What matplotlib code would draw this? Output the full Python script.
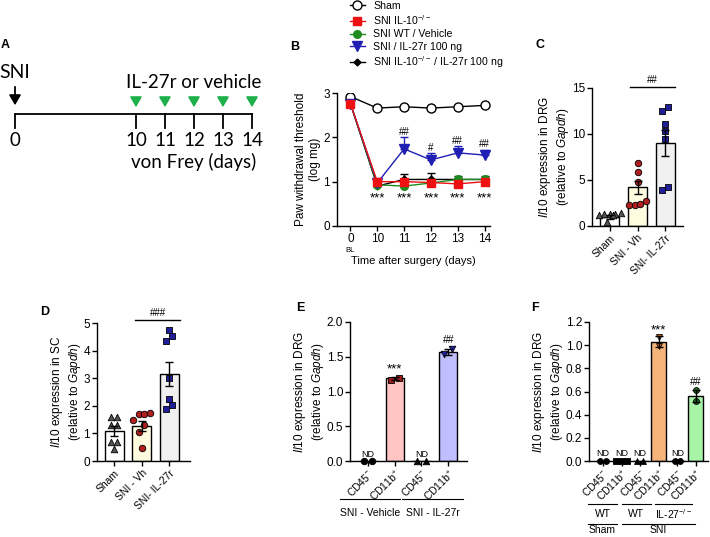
import numpy as np
import matplotlib
matplotlib.use('Agg')
import matplotlib.pyplot as plt
from matplotlib.transforms import blended_transform_factory

plt.rcParams['font.family'] = ['Liberation Sans', 'DejaVu Sans']
plt.rcParams['mathtext.fontset'] = 'custom'
plt.rcParams['mathtext.rm'] = 'Liberation Sans'
plt.rcParams['mathtext.it'] = 'Liberation Sans:italic'
plt.rcParams['mathtext.bf'] = 'Liberation Sans:bold'

W, H = 710, 537

# ---------------- data ----------------
# A: protocol timeline
a_days = [0, 10, 11, 12, 13, 14]
a_dose_days = [10, 11, 12, 13, 14]

# B: paw withdrawal threshold (log mg)
b_days = ['0', '10', '11', '12', '13', '14']
b_names = ['Sham', 'SNI IL-10$^{-/-}$', 'SNI WT / Vehicle',
           'SNI / IL-27r 100 ng', 'SNI IL-10$^{-/-}$ / IL-27r 100 ng']
b_sham = [2.92, 2.66, 2.69, 2.66, 2.69, 2.72]
b_il10ko = [2.76, 1.00, 1.00, 0.98, 0.95, 1.00]
b_wt_veh = [2.76, 0.93, 0.90, 0.97, 1.05, 1.05]
b_il27r = [2.76, 0.97, 1.74, 1.49, 1.65, 1.60]
b_il27r_err = [0.0, 0.03, 0.27, 0.15, 0.15, 0.12]
b_ko_il27r = [2.76, 0.90, 1.05, 1.05, 1.05, 1.05]
b_ko_il27r_err = [0.0, 0.03, 0.13, 0.15, 0.08, 0.08]
b_stars = ['', '***', '***', '***', '***', '***']
b_hash = ['', '', '##', '#', '##', '##']

# C: Il10 in DRG
c_names = ['Sham', 'SNI - Vh', 'SNI- IL-27r']
c_means = [1.0, 4.2, 9.0]
c_sems = [0.2, 0.7, 1.4]
c_points = [[1.35, 1.4, 1.3, 1.35, 1.25, 1.2, 0.45],
            [6.9, 5.85, 4.8, 2.7, 2.3, 2.4, 2.3],
            [12.9, 12.5, 11.1, 10.3, 9.45, 3.9, 4.2]]

# D: Il10 in SC
d_names = ['Sham', 'SNI - Vh', 'SNI- IL-27r']
d_means = [1.1, 1.27, 3.15]
d_sems = [0.18, 0.17, 0.42]
d_points = [[1.6, 1.6, 1.3, 1.3, 0.7, 0.7, 0.42],
            [1.7, 1.7, 1.75, 1.5, 1.3, 1.05, 0.47],
            [4.73, 4.52, 4.34, 3.02, 2.26, 2.04, 1.9]]

# E: sorted cells, DRG
e_names = ['CD45$^{-}$', 'CD11b$^{+}$', 'CD45$^{-}$', 'CD11b$^{+}$']
e_means = [0.0, 1.19, 0.0, 1.57]
e_sems = [0.0, 0.02, 0.0, 0.04]
e_points = [[0, 0], [1.16, 1.20], [0, 0], [1.54, 1.61]]
e_marks = ['ND', '***', 'ND', '##']
e_groups = ['SNI - Vehicle', 'SNI - IL-27r']

# F: sorted cells, DRG, WT vs IL-27-/-
f_names = ['CD45$^{-}$', 'CD11b$^{+}$'] * 3
f_means = [0.0, 0.0, 0.0, 1.03, 0.0, 0.56]
f_sems = [0.0, 0.0, 0.0, 0.05, 0.0, 0.05]
f_points = [[0, 0], [0, 0, 0], [0, 0], [1.07, 0.99], [0, 0], [0.61, 0.52]]
f_marks = ['ND', 'ND', 'ND', '***', 'ND', '##']
f_groups1 = ['WT', 'WT', 'IL-27$^{-/-}$']
f_groups2 = ['Sham', 'SNI']

YL_DRG = '$\\it{Il10}$ expression in DRG\n(relative to $\\it{Gapdh}$)'
YL_SC = '$\\it{Il10}$ expression in SC\n(relative to $\\it{Gapdh}$)'


def box(x0, y0, x1, y1):
    return [x0 / W, 1 - y1 / H, (x1 - x0) / W, (y1 - y0) / H]


def style(ax):
    for s in ['top', 'right']:
        ax.spines[s].set_visible(False)
    for s in ['left', 'bottom']:
        ax.spines[s].set_linewidth(1.0)
    ax.tick_params(length=3.5, width=1, labelsize=8.5, pad=1.5)


def swarm(vals, thr, step):
    vals = np.asarray(vals, float)
    order = np.argsort(vals)
    offs = np.zeros(len(vals))
    groups, cur = [], [order[0]]
    for i in order[1:]:
        if vals[i] - vals[cur[0]] <= thr:
            cur.append(i)
        else:
            groups.append(cur)
            cur = [i]
    groups.append(cur)
    for g in groups:
        n = len(g)
        offs[g] = (np.arange(n) - (n - 1) / 2) * step
    return offs


def bar_panel(ax, means, sems, points, fills, markers, mcolors, width, thr, step, ms=22):
    x = np.arange(len(means))
    ax.bar(x, means, width=width, color=fills, edgecolor='black', linewidth=1, zorder=1)
    for i, pts in enumerate(points):
        offs = swarm(pts, thr, step)
        ax.scatter(x[i] + offs, pts, marker=markers[i], s=ms, c=mcolors[i],
                   edgecolors='black', linewidths=0.6, zorder=4, clip_on=False)
    for i in range(len(means)):
        if means[i] > 0:
            ax.errorbar(x[i], means[i], yerr=sems[i], fmt='none', ecolor='black',
                        elinewidth=1, capsize=3, capthick=1, zorder=5)
    return x


fig = plt.figure(figsize=(W / 100, H / 100), dpi=100)

# ---------------- A ----------------
axA = fig.add_axes(box(15, 60, 252, 170))
axA.axis('off')
a_pos = [0 if d == 0 else d - 10 + 4.17 for d in a_days]
axA.set_xlim(0, a_pos[-1])
axA.set_ylim(170, 60)
axA.plot([a_pos[0], a_pos[-1]], [114, 114], color='black', lw=1.3, clip_on=False)
for p, d in zip(a_pos, a_days):
    axA.plot([p, p], [114, 128], color='black', lw=1.3, clip_on=False)
    axA.text(p, 140, str(d), ha='center', va='center', fontsize=13.5, family='Lato')
axA.text((a_pos[1] + a_pos[-1]) / 2, 162, 'von Frey (days)', ha='center', va='center',
         fontsize=13.5, family='Lato')
axA.text((a_pos[1] + a_pos[-1]) / 2, 83, 'IL-27r or vehicle', ha='center', va='center',
         fontsize=13.5, family='Lato')
axA.text(a_pos[0], 72, 'SNI', ha='center', va='center', fontsize=14, family='Lato')
axA.annotate('', xy=(a_pos[0], 108), xytext=(a_pos[0], 84),
             arrowprops=dict(arrowstyle='-|>,head_length=0.6,head_width=0.35',
                             color='black', lw=1.3, mutation_scale=10))
for d in a_dose_days:
    p = a_pos[a_days.index(d)]
    axA.annotate('', xy=(p, 110), xytext=(p, 97),
                 arrowprops=dict(arrowstyle='-|>,head_length=0.6,head_width=0.35',
                                 color='#1DB04B', lw=1.3, mutation_scale=10))

# ---------------- B ----------------
axB = fig.add_axes(box(337, 93, 490, 226))
style(axB)
xb = np.arange(len(b_days))
zeros = np.zeros(len(xb))
axB.errorbar(xb, b_ko_il27r, yerr=[zeros, b_ko_il27r_err], fmt='none', ecolor='black',
             elinewidth=1, capsize=3, zorder=2)
axB.errorbar(xb, b_il27r, yerr=[zeros, b_il27r_err], fmt='none', ecolor='#1F1FB4',
             elinewidth=1, capsize=3, zorder=2)
l_sham, = axB.plot(xb, b_sham, '-o', color='black', mfc='white', mec='black', ms=6.5, lw=1, zorder=3)
l_ko27, = axB.plot(xb, b_ko_il27r, '-D', color='black', ms=3.5, lw=1, zorder=3)
l_wt, = axB.plot(xb, b_wt_veh, '-o', color='#1E8C1E', mec='#1E8C1E', ms=5.5, lw=1, zorder=4)
l_27, = axB.plot(xb, b_il27r, '-v', color='#1F1FB4', ms=6.5, lw=1, zorder=4)
l_ko, = axB.plot(xb, b_il10ko, '-s', color='#EE1111', ms=6, lw=1, zorder=5)
for i in xb:
    if b_stars[i]:
        axB.text(i, 0.62, b_stars[i], ha='center', va='center', fontsize=9.5)
    if b_hash[i]:
        axB.text(i, b_il27r[i] + b_il27r_err[i] + 0.12, b_hash[i], ha='center',
                 va='center', fontsize=7)
axB.set_xlim(-0.5, 5.2)
axB.set_ylim(0, 3)
axB.set_yticks([0, 1, 2, 3])
axB.set_xticks(xb)
axB.set_xticklabels(b_days)
axB.text(0, -0.185, 'BL', transform=blended_transform_factory(axB.transData, axB.transAxes),
         ha='center', va='center', fontsize=5.5)
axB.set_xlabel('Time after surgery (days)', fontsize=8, labelpad=8)
axB.set_ylabel('Paw withdrawal threshold\n(log mg)', fontsize=8.5, labelpad=2)
fig.legend([l_sham, l_ko, l_wt, l_27, l_ko27], b_names, loc='upper left',
           bbox_to_anchor=(350 / W, 1 - 1 / H), frameon=False, fontsize=7.6,
           handlelength=1.4, handletextpad=0.8, labelspacing=0.22,
           borderaxespad=0, borderpad=0)

# ---------------- C ----------------
axC = fig.add_axes(box(592, 88, 683, 226))
style(axC)
xc = bar_panel(axC, c_means, c_sems, c_points, ['white', '#FFFDE0', '#F0F0F0'],
               ['^', 'o', 's'], ['#555555', '#B01E1E', '#1F1F99'], 0.69, 0.75, 0.2)
axC.set_xlim(-0.65, 2.65)
axC.set_ylim(0, 15)
axC.set_yticks([0, 5, 10, 15])
axC.set_xticks(xc)
axC.set_xticklabels(c_names, rotation=45, ha='right', rotation_mode='anchor', fontsize=7.5)
axC.plot([0.73, 2.35], [15.1, 15.1], color='black', lw=1, clip_on=False)
axC.text(1.54, 15.9, '##', ha='center', va='center', fontsize=7)
axC.set_ylabel(YL_DRG, fontsize=8.5, labelpad=0.5)

# ---------------- D ----------------
axD = fig.add_axes(box(97, 323, 190, 461))
style(axD)
xd = bar_panel(axD, d_means, d_sems, d_points, ['white', '#FFFDE0', '#F0F0F0'],
               ['^', 'o', 's'], ['#555555', '#B01E1E', '#1F1F99'], 0.69, 0.25, 0.2)
axD.set_xlim(-0.62, 2.76)
axD.set_ylim(0, 5)
axD.set_yticks([0, 1, 2, 3, 4, 5])
axD.set_xticks(xd)
axD.set_xticklabels(d_names, rotation=45, ha='right', rotation_mode='anchor', fontsize=7.5)
axD.plot([0.76, 2.4], [5.1, 5.1], color='black', lw=1, clip_on=False)
axD.text(1.58, 5.38, '###', ha='center', va='center', fontsize=7)
axD.set_ylabel(YL_SC, fontsize=8.5, labelpad=0.5)

# ---------------- E ----------------
axE = fig.add_axes(box(350, 322, 467, 461))
style(axE)
xe = bar_panel(axE, e_means, e_sems, e_points, ['white', '#FFC4C4', 'white', '#BFBFFF'],
               ['o', 's', '^', 'v'], ['black', '#9B1B1B', 'black', '#2020A0'], 0.68, 0.1, 0.3)
axE.set_xlim(-0.67, 3.7)
axE.set_ylim(0, 2.0)
axE.set_yticks([0, 0.5, 1.0, 1.5, 2.0])
axE.set_yticklabels(['0.0', '0.5', '1.0', '1.5', '2.0'])
axE.set_xticks(xe)
axE.set_xticklabels(e_names, rotation=45, ha='right', rotation_mode='anchor', fontsize=7.5)
for i, m in enumerate(e_marks):
    if m == 'ND':
        axE.text(i, 0.1, m, ha='center', va='center', fontsize=6.5)
    elif m.startswith('*'):
        axE.text(i, e_means[i] + e_sems[i] + 0.11, m, ha='center', va='center', fontsize=9.5)
    else:
        axE.text(i, e_means[i] + e_sems[i] + 0.13, m, ha='center', va='center', fontsize=7.5)
tE = blended_transform_factory(axE.transData, axE.transAxes)
for lab, (x0, x1) in zip(e_groups, [(-1.05, 1.2), (1.27, 3.55)]):
    axE.plot([x0, x1], [-0.27, -0.27], color='black', lw=0.8, transform=tE, clip_on=False)
    axE.text((x0 + x1) / 2, -0.375, lab, ha='center', va='center', fontsize=7.5, transform=tE)
axE.set_ylabel(YL_DRG, fontsize=8.5, labelpad=0.5)

# ---------------- F ----------------
axF = fig.add_axes(box(589, 322, 708, 461))
style(axF)
xf = bar_panel(axF, f_means, f_sems, f_points,
               ['white', 'white', 'white', '#F5B47A', 'white', '#A8F5A8'],
               ['o', 's', '^', 'v', 'o', 'o'],
               ['black', 'black', 'black', '#D2691E', 'black', '#1E6B1E'],
               0.8, 0.06, 0.3, ms=18)
axF.set_xlim(-0.75, 5.65)
axF.set_ylim(0, 1.2)
axF.set_yticks([0, 0.2, 0.4, 0.6, 0.8, 1.0, 1.2])
axF.set_yticklabels(['0.0', '0.2', '0.4', '0.6', '0.8', '1.0', '1.2'])
axF.set_xticks(xf)
axF.set_xticklabels(f_names, rotation=45, ha='right', rotation_mode='anchor', fontsize=7.5)
for i, m in enumerate(f_marks):
    if m == 'ND':
        axF.text(i, 0.065, m, ha='center', va='center', fontsize=6.5)
    elif m.startswith('*'):
        axF.text(i, f_means[i] + f_sems[i] + 0.05, m, ha='center', va='center', fontsize=9.5)
    else:
        axF.text(i, f_means[i] + f_sems[i] + 0.07, m, ha='center', va='center', fontsize=7.5)
tF = blended_transform_factory(axF.transData, axF.transAxes)
for lab, (x0, x1) in zip(f_groups1, [(-0.8, 0.75), (1.0, 2.6), (2.8, 4.8)]):
    axF.plot([x0, x1], [-0.31, -0.31], color='black', lw=0.8, transform=tF, clip_on=False)
    axF.text((x0 + x1) / 2, -0.38, lab, ha='center', va='center', fontsize=7.5, transform=tF)
for lab, (x0, x1) in zip(f_groups2, [(-0.8, 0.75), (1.0, 4.95)]):
    axF.plot([x0, x1], [-0.453, -0.453], color='black', lw=0.8, transform=tF, clip_on=False)
    axF.text((x0 + x1) / 2, -0.495, lab, ha='center', va='center', fontsize=7.5, transform=tF)
axF.set_ylabel(YL_DRG, fontsize=8.5, labelpad=0.5)

# panel letters
for lab, x, y in [('A', 5, 45), ('B', 295, 47), ('C', 540, 45),
                  ('D', 45, 312), ('E', 300, 308), ('F', 535, 308)]:
    fig.text(x / W, 1 - y / H, lab, fontsize=9, fontweight='bold', ha='center', va='center')

fig.savefig('out.png', dpi=100)
